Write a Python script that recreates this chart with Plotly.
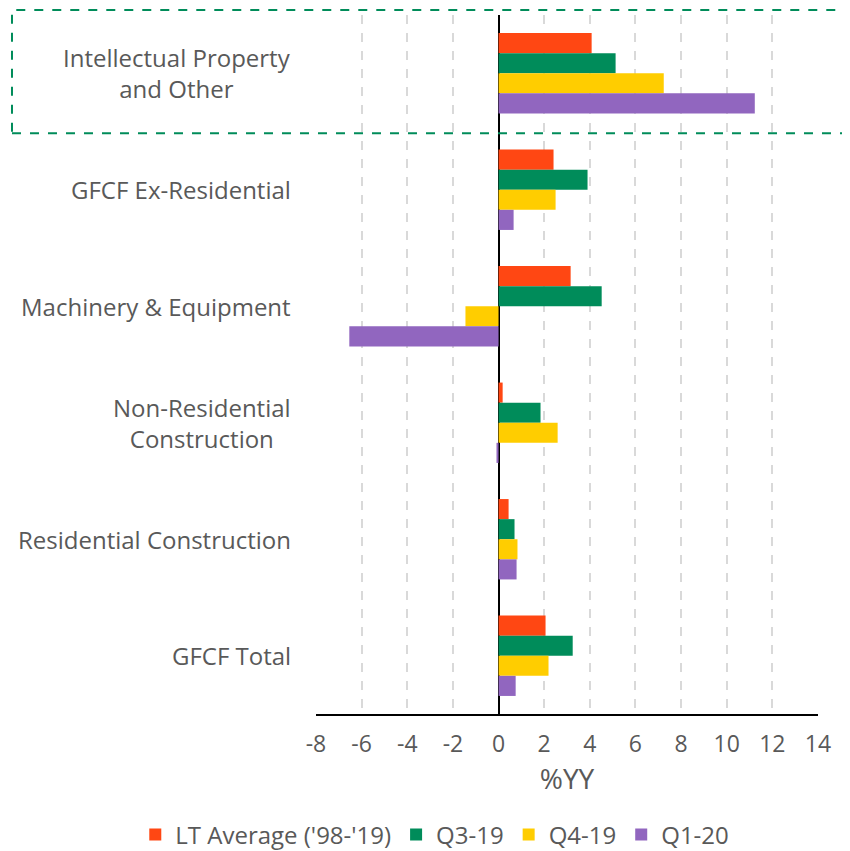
import plotly.graph_objects as go

categories = ["Intellectual Property and Other", "GFCF Ex-Residential", "Machinery & Equipment",
              "Non-Residential Construction", "Residential Construction", "GFCF Total"]
category_labels = ["Intellectual Property<br>and Other", "GFCF Ex-Residential", "Machinery & Equipment",
                   "Non-Residential<br>Construction", "Residential Construction", "GFCF Total"]
series_names = ["LT Average ('98-'19)", "Q3-19", "Q4-19", "Q1-20"]
lt_average = [4.08, 2.41, 3.16, 0.18, 0.44, 2.06]
q3_19 = [5.13, 3.90, 4.52, 1.84, 0.70, 3.25]
q4_19 = [7.24, 2.50, -1.45, 2.59, 0.83, 2.19]
q1_20 = [11.23, 0.66, -6.54, -0.09, 0.79, 0.75]
colors = ["#FF4713", "#008C5A", "#FFCD00", "#9166BF"]
x_ticks = list(range(-8, 15, 2))

FONT = "Open Sans"

fig = go.Figure()
for name, vals, col in zip(series_names, [lt_average, q3_19, q4_19, q1_20], colors):
    fig.add_trace(go.Bar(y=categories, x=vals, name=name, orientation="h",
                         marker=dict(color=col, line=dict(width=0))))

for cat, lab in zip(categories, category_labels):
    fig.add_annotation(x=-0.046, xref="paper", y=cat, yref="y", text=lab, showarrow=False,
                       xanchor="right", yanchor="middle", align="center",
                       font=dict(family=FONT, size=24, color="#595959"))

fig.add_shape(type="rect", xref="paper", yref="paper", x0=-0.6056, x1=1.06, y0=0.831, y1=1.007,
              line=dict(color="#008C5A", width=2, dash="dash"), fillcolor="rgba(0,0,0,0)")

fig.update_layout(
    width=842, height=843,
    margin=dict(l=308, r=32, t=7, b=137, autoexpand=False),
    paper_bgcolor="white", plot_bgcolor="white",
    barmode="group", bargap=0.31, bargroupgap=0,
    font=dict(family=FONT, size=23, color="#595959"),
    xaxis=dict(range=[-8, 14], tickvals=x_ticks, ticktext=[str(t) for t in x_ticks],
               showgrid=True, gridcolor="#d9d9d9", griddash="dash", gridwidth=1.5,
               zeroline=True, zerolinecolor="black", zerolinewidth=2,
               showline=True, linecolor="black", linewidth=2,
               ticks="outside", ticklen=8, tickcolor="rgba(0,0,0,0)",
               title=dict(text="%YY", standoff=2), tickfont=dict(size=23)),
    yaxis=dict(autorange="reversed", showticklabels=False, showgrid=False, zeroline=False,
               showline=False),
    legend=dict(orientation="h", xref="paper", yref="paper", x=-0.36, y=-0.173,
                xanchor="left", yanchor="middle", font=dict(size=24),
                itemwidth=30, traceorder="normal"),
    showlegend=True,
)

fig.write_html("out.html")
